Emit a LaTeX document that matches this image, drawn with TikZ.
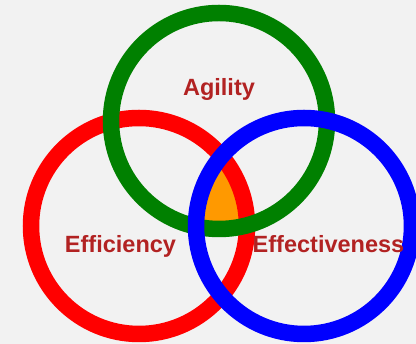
\documentclass[tikz,border=0pt]{standalone}
\usepackage{fontspec}
\setmainfont{Liberation Sans}
\definecolor{bgc}{HTML}{F2F2F2}
\definecolor{txtc}{HTML}{B22222}
\definecolor{ringgreen}{HTML}{008000}
\definecolor{ringred}{HTML}{FF0000}
\definecolor{ringblue}{HTML}{0000FF}
\definecolor{midorange}{HTML}{FF9900}
\begin{document}
\begin{tikzpicture}[x=1pt,y=1pt,
  ring/.style={line width=16.5pt},
  lbl/.style={text=txtc,font=\bfseries\fontsize{23.5}{27}\selectfont,anchor=base,inner sep=0pt}]
\fill[bgc] (0,0) rectangle (416,344);
\useasboundingbox (0,0) rectangle (416,344);
\clip (0,0) rectangle (416,344);
\coordinate (cg) at (219,223);
\coordinate (cr) at (139,118);
\coordinate (cb) at (304,118);
\begin{scope}
\clip (cg) circle (108);
\clip (cr) circle (108);
\fill[midorange] (cb) circle (108);
\end{scope}
\draw[ring,ringred] (cr) circle (108);
\draw[ring,ringgreen] (cg) circle (108);
\draw[ring,ringblue] (cb) circle (108);
\node[lbl] (agility) at (219,248) {Agility};
\node[lbl] (efficiency) at (120.5,91) {Efficiency};
\node[lbl] (effectiveness) at (328.5,91) {Effectiveness};
\end{tikzpicture}
\end{document}
